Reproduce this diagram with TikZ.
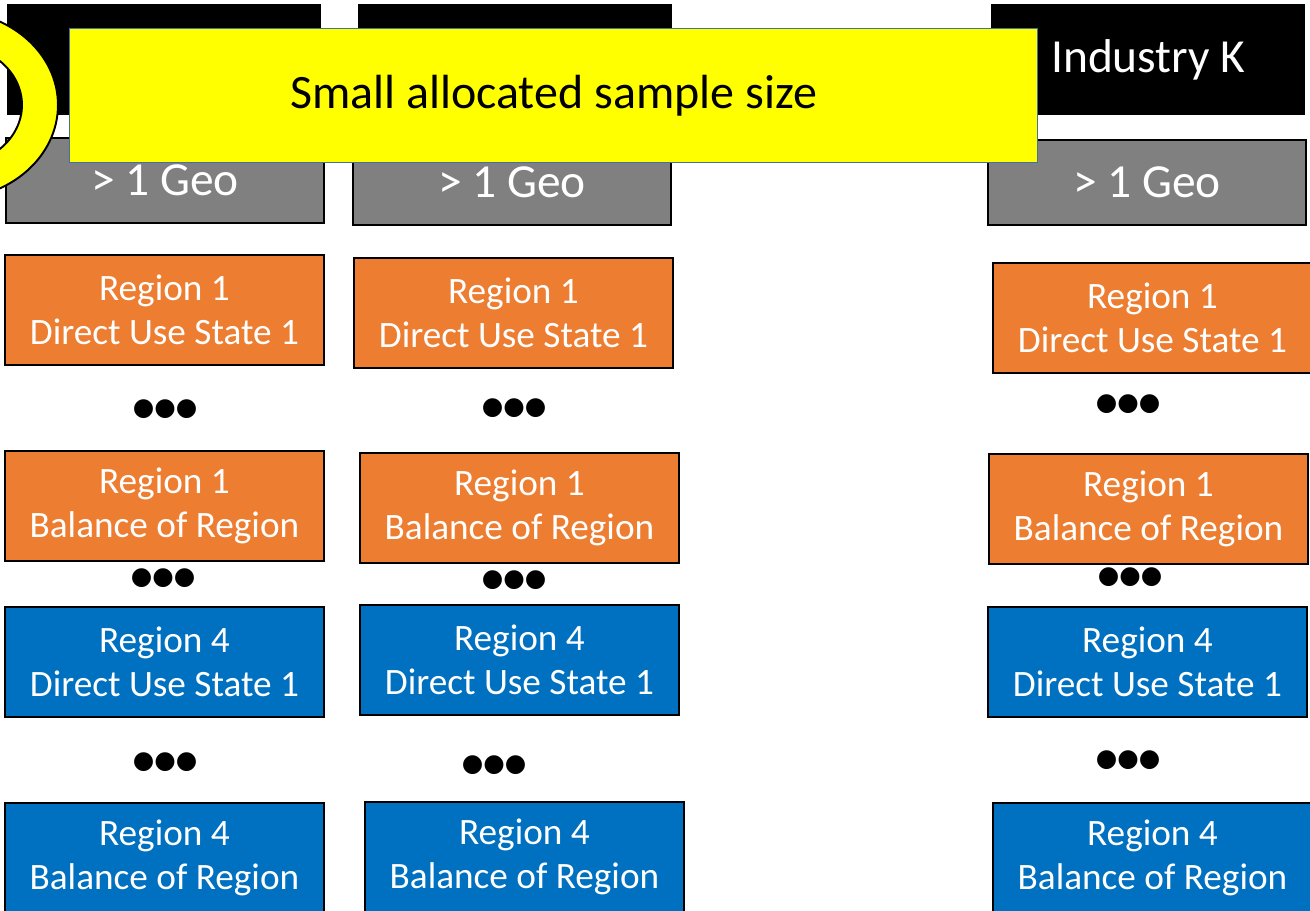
\documentclass[tikz,border=0pt]{standalone}
\usepackage{fontspec}
\setmainfont{Carlito}
\newfontfamily\dotfont{DejaVu Sans}
\usetikzlibrary{positioning}

\definecolor{regorange}{HTML}{ED7D31}
\definecolor{regblue}{HTML}{0070C0}
\definecolor{geogray}{HTML}{808080}
\definecolor{noteyellow}{HTML}{FFFF00}
\definecolor{noteline}{HTML}{41719C}

\tikzset{
    regbox/.style={draw=black, line width=1.1pt, anchor=north west, text=white, align=center,
        inner sep=0pt, minimum width=6.38cm, minimum height=2.2cm, font=\fontsize{21.2}{25}\selectfont},
    orangebox/.style={regbox, fill=regorange},
    bluebox/.style={regbox, fill=regblue},
    geobox/.style={regbox, fill=geogray, minimum width=6.36cm, minimum height=1.7cm,
        font=\fontsize{27}{30}\selectfont},
    headbox/.style={anchor=north west, fill=black, text=white, inner sep=0pt,
        minimum width=6.28cm, minimum height=2.22cm, font=\fontsize{27}{32}\selectfont},
    notebox/.style={anchor=north west, draw=noteline, line width=0.8pt, fill=noteyellow, inner sep=0pt,
        minimum width=19.36cm, minimum height=2.68cm, font=\fontsize{27.3}{32}\selectfont},
    dotrow/.style={inner sep=0pt, font=\dotfont\fontsize{14}{14}\selectfont},
}

\begin{document}
\begin{tikzpicture}[x=0.02cm, y=-0.02cm]
                \useasboundingbox (0,0) rectangle (1310,911);

                \node[headbox] (head1) at (7,4) {};
                \node[headbox] (head2) at (358,4) {};
                \node[headbox] (head3) at (991,4) {Industry K};

                \node[geobox] (geo1) at (5,137) {> 1 Geo};
                \node[geobox] (geo2) at (352,139) {> 1 Geo};
                \node[geobox] (geo3) at (987,139) {> 1 Geo};

                \node[orangebox] (r1use1) at (4,254) {Region 1\\Direct Use State 1};
                \node[orangebox] (r1use2) at (353,257) {Region 1\\Direct Use State 1};
                \node[orangebox] (r1use3) at (992,262) {Region 1\\Direct Use State 1};

                \node[dotrow] (dots11) at (165,409) {●●●};
                \node[dotrow] (dots21) at (514,408) {●●●};
                \node[dotrow] (dots31) at (1128,404) {●●●};

                \node[orangebox] (r1bal1) at (4,450) {Region 1\\Balance of Region};
                \node[orangebox] (r1bal2) at (359,452) {Region 1\\Balance of Region};
                \node[orangebox] (r1bal3) at (988,453) {Region 1\\Balance of Region};

                \node[dotrow] (dots12) at (163,578) {●●●};
                \node[dotrow] (dots22) at (514,580) {●●●};
                \node[dotrow] (dots32) at (1130,577) {●●●};

                \node[bluebox] (r4use1) at (4,606) {Region 4\\Direct Use State 1};
                \node[bluebox] (r4use2) at (359,604) {Region 4\\Direct Use State 1};
                \node[bluebox] (r4use3) at (987,606) {Region 4\\Direct Use State 1};

                \node[dotrow] (dots13) at (165,762) {●●●};
                \node[dotrow] (dots23) at (494,765) {●●●};
                \node[dotrow] (dots33) at (1128,760) {●●●};

                \node[bluebox] (r4bal1) at (4,802) {Region 4\\Balance of Region};
                \node[bluebox] (r4bal2) at (364,801) {Region 4\\Balance of Region};
                \node[bluebox] (r4bal3) at (992,802) {Region 4\\Balance of Region};

                \node[notebox] (note) at (69,28) {Small allocated sample size};

                \draw[fill=noteyellow, even odd rule, line width=1.1pt]
                    (-50,105) ellipse [x radius=2.16cm, y radius=1.88cm]
                    (-50,105) ellipse [x radius=1.44cm, y radius=1.22cm];
\end{tikzpicture}
\end{document}
